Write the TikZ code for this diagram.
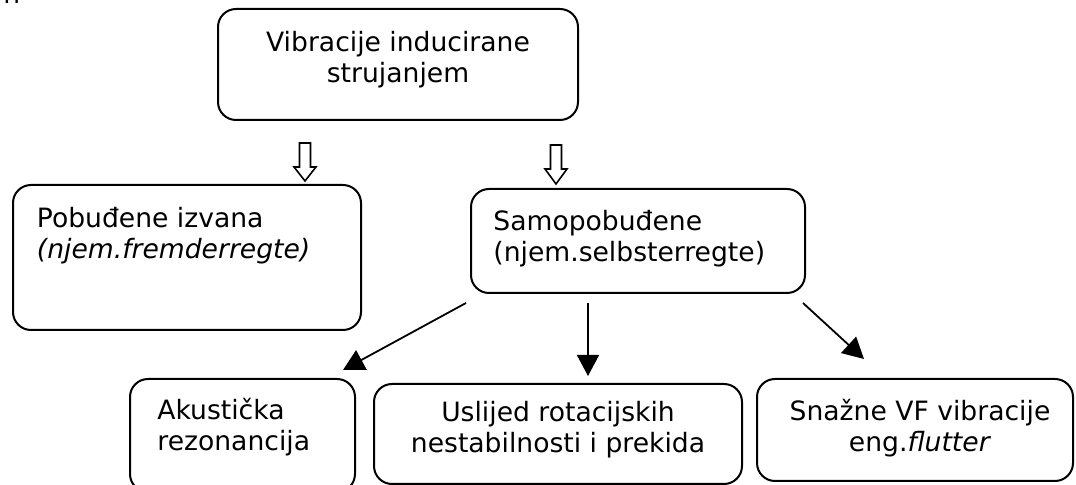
\documentclass[tikz,border=0pt]{standalone}
\usepackage{fontspec}
\setmainfont{DejaVu Sans}
\usetikzlibrary{arrows.meta, positioning}

\begin{document}
\begin{tikzpicture}[
  x=0.5pt, y=-0.5pt,
  font=\fontsize{13.3}{15.2}\selectfont,
  box/.style={draw=black, line width=1pt, rounded corners=9pt, inner sep=0pt},
  txt/.style={inner sep=0pt, align=left},
  ctxt/.style={inner sep=0pt, align=center},
  conn/.style={draw=black, line width=0.9pt, -{Triangle[length=10.5pt,width=11pt]}},
  hollow/.style={draw=black, fill=white, line width=0.8pt},
]
\useasboundingbox (0,0) rectangle (1076,485);

\node[txt, anchor=base west] (frag) at (3,4) {n};

% boxes
\node[box, minimum width=180pt, minimum height=55.5pt]   (top)  at (398,64.5)  {};
\node[box, minimum width=174pt, minimum height=72.5pt]   (left) at (187,257.5) {};
\node[box, minimum width=167pt, minimum height=52pt]     (mid)  at (638,241)   {};
\node[box, minimum width=112.5pt, minimum height=56.5pt] (b1)   at (242.5,435.5) {};
\node[box, minimum width=184pt, minimum height=50pt]     (b2)   at (558,434)   {};
\node[box, minimum width=158pt, minimum height=51pt]     (b3)   at (915,430)   {};

% texts
\node[ctxt, below=11.5pt of top.north]                    (ttop)  {Vibracije inducirane\\strujanjem};
\node[txt, below right=11.5pt and 12.25pt of left.north west] (tleft) {Pobuđene izvana\\\textit{(njem.fremderregte)}};
\node[txt, below right=11pt and 11.5pt of mid.north west]     (tmid)  {Samopobuđene\\(njem.selbsterregte)};
\node[txt, below right=10pt and 14pt of b1.north west]        (tb1)   {Akustička\\rezonancija};
\node[ctxt, below=9pt of b2.north]                        (tb2)   {Uslijed rotacijskih\\nestabilnosti i prekida};
\node[ctxt, below=10.5pt of b3.north, xshift=2.5pt]       (tb3)   {Snažne VF vibracije\\eng.\textit{flutter}};

% hollow arrows
\draw[hollow] ([shift={(293,-3)}]left.north west) -- ++(-11,-14) -- ++(5.5,0) -- ++(0,-24)
  -- ++(11,0) -- ++(0,24) -- ++(5.5,0) -- cycle;
\draw[hollow] ([shift={(86,-4)}]mid.north west) -- ++(-11,-15) -- ++(5.5,0) -- ++(0,-24)
  -- ++(11,0) -- ++(0,24) -- ++(5.5,0) -- cycle;

% arrows to bottom row
\draw[conn] ([shift={(-4,9)}]mid.south west) -- ([shift={(-13,-8)}]b1.north east);
\draw[conn] ([shift={(118,9)}]mid.south west) -- ([shift={(215,-7)}]b2.north west);
\draw[conn] ([shift={(-3,9)}]mid.south east) -- ([shift={(108,-19)}]b3.north west);
\end{tikzpicture}
\end{document}
